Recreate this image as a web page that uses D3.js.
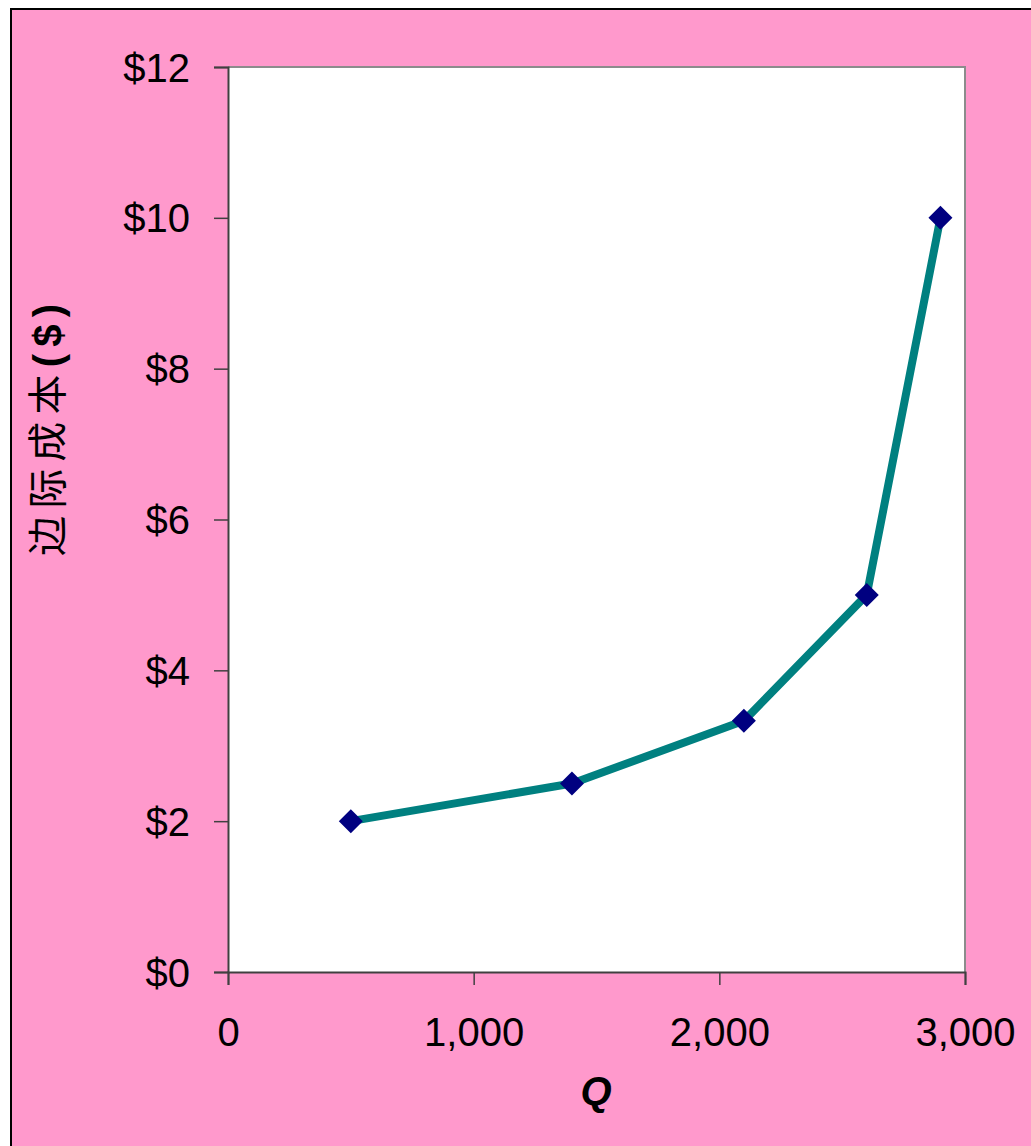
<!DOCTYPE html>
<html><head><meta charset="utf-8">
<script src="https://cdn.jsdelivr.net/npm/d3@7"></script>
<style>html,body{margin:0;padding:0;background:#fff;}svg{display:block;}</style>
</head><body>
<svg id="chart" width="1031" height="1146"></svg>
<script>
const quantities = [500, 1400, 2100, 2600, 2900];
const marginalCost = [2, 2.5, 3.33, 5, 10];
const xTicks = [0, 1000, 2000, 3000];
const yTicks = [0, 2, 4, 6, 8, 10, 12];
const yTitle = "边际成本";
const yTitleUnit = "($)";
const xTitle = "Q";

const svg = d3.select("#chart");
const W = 1031, H = 1146;
const L = 228, R = 965, T = 67, B = 972;

svg.append("rect").attr("x", 11).attr("y", 9).attr("width", W).attr("height", H)
  .attr("fill", "#FF99CC").attr("stroke", "#000").attr("stroke-width", 2);

const x = d3.scaleLinear().domain([0, 3000]).range([L, R]);
const y = d3.scaleLinear().domain([0, 12]).range([B, T]);

svg.append("rect").attr("x", L).attr("y", T).attr("width", R - L).attr("height", B - T)
  .attr("fill", "#fff");
// top/right border
svg.append("path").attr("d", `M${L},${T}H${R}V${B}`).attr("fill", "none")
  .attr("stroke", "#8c8c8c").attr("stroke-width", 2);

const font = "'Liberation Sans', Arial, sans-serif";

const yAxis = d3.axisLeft(y).tickValues(yTicks).tickSize(14).tickPadding(24)
  .tickFormat(d => "$" + d);
const gy = svg.append("g").attr("transform", `translate(${L},0)`).call(yAxis);
gy.select(".domain").attr("stroke", "#404040").attr("stroke-width", 2);
gy.selectAll(".tick line").attr("stroke", "#404040").attr("stroke-width", 1.5);
gy.selectAll(".tick text").attr("font-family", font).attr("font-size", 40).attr("fill", "#000")
  .attr("dy", "0.35em");

const xAxis = d3.axisBottom(x).tickValues(xTicks).tickSize(13).tickPadding(33)
  .tickFormat(d3.format(","));
const gx = svg.append("g").attr("transform", `translate(0,${B})`).call(xAxis);
gx.select(".domain").attr("stroke", "#404040").attr("stroke-width", 2);
gx.selectAll(".tick line").attr("stroke", "#404040").attr("stroke-width", 1.5);
gx.selectAll(".tick text").attr("font-family", font).attr("font-size", 40).attr("fill", "#000")
  .attr("dy", "0.71em");

const data = quantities.map((q, i) => ({q, c: marginalCost[i]}));
svg.append("path").datum(data)
  .attr("d", d3.line().x(d => x(d.q)).y(d => y(d.c)))
  .attr("fill", "none").attr("stroke", "#008080").attr("stroke-width", 8)
  .attr("stroke-linejoin", "round");

svg.selectAll(".pt").data(data).enter().append("path").attr("class", "pt")
  .attr("transform", d => `translate(${x(d.q)},${y(d.c)})`)
  .attr("d", "M0,-12L12,0L0,12L-12,0Z").attr("fill", "#000080");

// y title
const yt = svg.append("text").attr("transform", "translate(62,430) rotate(-90)")
  .attr("text-anchor", "middle").attr("font-size", 40).attr("fill", "#000")
  .attr("textLength", 252).attr("lengthAdjust", "spacing");
yt.append("tspan").attr("font-family", "'Noto Sans CJK SC', sans-serif").text(yTitle);
yt.append("tspan").attr("font-family", font).attr("font-weight", "bold").text(yTitleUnit);

svg.append("text").attr("x", 596).attr("y", 1105).attr("text-anchor", "middle")
  .attr("font-family", font).attr("font-size", 40).attr("font-weight", "bold")
  .attr("font-style", "italic").text(xTitle);
</script>
</body></html>
